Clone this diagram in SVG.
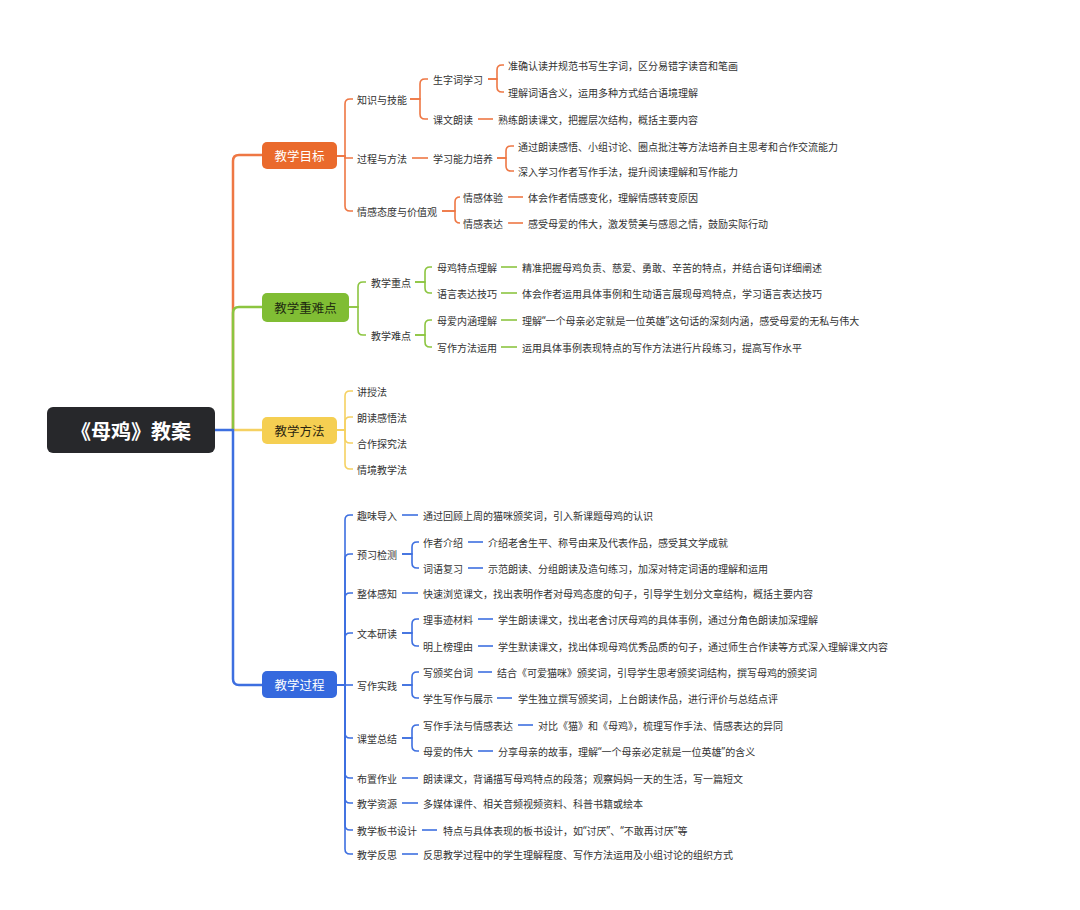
<svg xmlns="http://www.w3.org/2000/svg" width="1080" height="910" viewBox="0 0 1080 910">
<style>
.t{font-family:"Noto Sans CJK SC","Noto Sans",sans-serif;font-size:10px;fill:#333;dominant-baseline:central}
.q{font-family:"Noto Sans","Liberation Sans",sans-serif}
.m{font-family:"Noto Sans CJK SC","Noto Sans",sans-serif;font-size:12.5px;dominant-baseline:central;text-anchor:middle}
.r{font-family:"Noto Sans CJK SC","Noto Sans",sans-serif;font-size:20px;font-weight:bold;fill:#fff;dominant-baseline:central;text-anchor:middle}
.o{stroke:#ee7744;fill:none;stroke-width:1.6}
.g{stroke:#8cc540;fill:none;stroke-width:1.6}
.y{stroke:#f5d162;fill:none;stroke-width:1.6}
.b{stroke:#3d6fe0;fill:none;stroke-width:1.6}
.w{stroke-width:2.5}
</style>
<rect width="1080" height="910" fill="#fff"/>
<g id="connectors">
<path class="o w" d="M233,430 V161 Q233,155 239,155 H262"/>
<path class="g w" d="M233,430 V313 Q233,307 239,307 H262"/>
<path class="y w" d="M233,430 H262"/>
<path class="b w" d="M215,430 H233 V679 Q233,685 239,685 H262"/>
<path class="o" d="M337,156 H345 V104 Q345,99 350,99 H353"/>
<path class="o" d="M337,156 H345 V158 H353"/>
<path class="o" d="M337,156 H345 V206 Q345,211 350,211 H353"/>
<path class="o" d="M410,99 H420 V84 Q420,79 425,79 H428"/>
<path class="o" d="M410,99 H420 V114 Q420,119 425,119 H428"/>
<path class="o" d="M412,158 H428"/>
<path class="o" d="M442,211 H455 V202 Q455,197 460,197 H460"/>
<path class="o" d="M442,211 H455 V218 Q455,223 460,223 H460"/>
<path class="o" d="M488,79 H497 V70 Q497,65 502,65 H504"/>
<path class="o" d="M488,79 H497 V87 Q497,92 502,92 H504"/>
<path class="o" d="M478,119 H493"/>
<path class="o" d="M497,158 H506 V151 Q506,146 511,146 H514"/>
<path class="o" d="M497,158 H506 V166 Q506,171 511,171 H514"/>
<path class="o" d="M508,197 H523"/>
<path class="o" d="M508,223 H523"/>
<path class="g" d="M349,307 H358 V287 Q358,282 363,282 H366"/>
<path class="g" d="M349,307 H358 V330 Q358,335 363,335 H366"/>
<path class="g" d="M415,282 H425 V272 Q425,267 430,267 H432"/>
<path class="g" d="M415,282 H425 V288 Q425,293 430,293 H432"/>
<path class="g" d="M415,335 H425 V325 Q425,320 430,320 H432"/>
<path class="g" d="M415,335 H425 V342 Q425,347 430,347 H432"/>
<path class="g" d="M501,267 H517"/>
<path class="g" d="M501,293 H517"/>
<path class="g" d="M501,320 H517"/>
<path class="g" d="M501,347 H517"/>
<path class="y" d="M337,430 H345 V396 Q345,391 350,391 H353"/>
<path class="y" d="M337,430 H345 V422 Q345,417 350,417 H353"/>
<path class="y" d="M337,430 H345 V438 Q345,443 350,443 H353"/>
<path class="y" d="M337,430 H345 V464 Q345,469 350,469 H353"/>
<path class="b" d="M337,685 H345 V520 Q345,515 350,515 H353"/>
<path class="b" d="M337,685 H345 V559 Q345,554 350,554 H353"/>
<path class="b" d="M337,685 H345 V598 Q345,593 350,593 H353"/>
<path class="b" d="M337,685 H345 V638 Q345,633 350,633 H353"/>
<path class="b" d="M337,685 H353"/>
<path class="b" d="M337,685 H345 V733 Q345,738 350,738 H353"/>
<path class="b" d="M337,685 H345 V773 Q345,778 350,778 H353"/>
<path class="b" d="M337,685 H345 V798 Q345,803 350,803 H353"/>
<path class="b" d="M337,685 H345 V825 Q345,830 350,830 H353"/>
<path class="b" d="M337,685 H345 V849 Q345,854 350,854 H353"/>
<path class="b" d="M402,515 H418"/>
<path class="b" d="M402,554 H412 V547 Q412,542 417,542 H419"/>
<path class="b" d="M402,554 H412 V563 Q412,568 417,568 H419"/>
<path class="b" d="M468,542 H483"/>
<path class="b" d="M468,568 H483"/>
<path class="b" d="M402,593 H418"/>
<path class="b" d="M402,633 H412 V624 Q412,619 417,619 H419"/>
<path class="b" d="M402,633 H412 V641 Q412,646 417,646 H419"/>
<path class="b" d="M478,619 H493"/>
<path class="b" d="M478,646 H493"/>
<path class="b" d="M402,685 H412 V677 Q412,672 417,672 H419"/>
<path class="b" d="M402,685 H412 V693 Q412,698 417,698 H419"/>
<path class="b" d="M478,672 H492"/>
<path class="b" d="M497,698 H512"/>
<path class="b" d="M402,738 H412 V730 Q412,725 417,725 H419"/>
<path class="b" d="M402,738 H412 V746 Q412,751 417,751 H419"/>
<path class="b" d="M518,725 H533"/>
<path class="b" d="M478,751 H493"/>
<path class="b" d="M402,778 H418"/>
<path class="b" d="M402,803 H418"/>
<path class="b" d="M422,830 H437"/>
<path class="b" d="M402,854 H418"/>
</g>
<g id="root"><rect x="47" y="407" width="168" height="46" rx="6" fill="#27282b"/><text class="r" x="131" y="430">《母鸡》教案</text></g>
<g id="n-mubiao"><rect x="262" y="142" width="75" height="27" rx="5" fill="#ea6a2c"/><text class="m" x="299.5" y="155.5" fill="#fff">教学目标</text></g>
<g id="n-zhongnan"><rect x="262" y="293" width="87" height="29" rx="5" fill="#80bd34"/><text class="m" x="305.5" y="307.5" fill="#1e2a10">教学重难点</text></g>
<g id="n-fangfa"><rect x="262" y="417" width="75" height="27" rx="5" fill="#f5cf52"/><text class="m" x="299.5" y="430.5" fill="#2a2410">教学方法</text></g>
<g id="n-guocheng"><rect x="262" y="671" width="75" height="27" rx="5" fill="#3569de"/><text class="m" x="299.5" y="684.5" fill="#fff">教学过程</text></g>
<g id="orange-nodes">
<text class="t" x="357" y="99">知识与技能</text>
<text class="t" x="357" y="158">过程与方法</text>
<text class="t" x="357" y="211">情感态度与价值观</text>
<text class="t" x="433" y="79">生字词学习</text>
<text class="t" x="433" y="119">课文朗读</text>
<text class="t" x="433" y="158">学习能力培养</text>
<text class="t" x="463" y="197">情感体验</text>
<text class="t" x="463" y="223">情感表达</text>
<text class="t" x="508" y="65">准确认读并规范书写生字词，区分易错字读音和笔画</text>
<text class="t" x="508" y="92">理解词语含义，运用多种方式结合语境理解</text>
<text class="t" x="498" y="119">熟练朗读课文，把握层次结构，概括主要内容</text>
<text class="t" x="518" y="146">通过朗读感悟、小组讨论、圈点批注等方法培养自主思考和合作交流能力</text>
<text class="t" x="518" y="171">深入学习作者写作手法，提升阅读理解和写作能力</text>
<text class="t" x="528" y="197">体会作者情感变化，理解情感转变原因</text>
<text class="t" x="528" y="223">感受母爱的伟大，激发赞美与感恩之情，鼓励实际行动</text>
</g>
<g id="green-nodes">
<text class="t" x="371" y="282">教学重点</text>
<text class="t" x="371" y="335">教学难点</text>
<text class="t" x="437" y="267">母鸡特点理解</text>
<text class="t" x="437" y="293">语言表达技巧</text>
<text class="t" x="437" y="320">母爱内涵理解</text>
<text class="t" x="437" y="347">写作方法运用</text>
<text class="t" x="522" y="267">精准把握母鸡负责、慈爱、勇敢、辛苦的特点，并结合语句详细阐述</text>
<text class="t" x="522" y="293">体会作者运用具体事例和生动语言展现母鸡特点，学习语言表达技巧</text>
<text class="t" x="522" y="320">理解<tspan class="q">“</tspan>一个母亲必定就是一位英雄<tspan class="q">”</tspan>这句话的深刻内涵，感受母爱的无私与伟大</text>
<text class="t" x="522" y="347">运用具体事例表现特点的写作方法进行片段练习，提高写作水平</text>
</g>
<g id="yellow-nodes">
<text class="t" x="357" y="391">讲授法</text>
<text class="t" x="357" y="417">朗读感悟法</text>
<text class="t" x="357" y="443">合作探究法</text>
<text class="t" x="357" y="469">情境教学法</text>
</g>
<g id="blue-nodes">
<text class="t" x="357" y="515">趣味导入</text>
<text class="t" x="357" y="554">预习检测</text>
<text class="t" x="357" y="593">整体感知</text>
<text class="t" x="357" y="633">文本研读</text>
<text class="t" x="357" y="685">写作实践</text>
<text class="t" x="357" y="738">课堂总结</text>
<text class="t" x="357" y="778">布置作业</text>
<text class="t" x="357" y="803">教学资源</text>
<text class="t" x="357" y="830">教学板书设计</text>
<text class="t" x="357" y="854">教学反思</text>
<text class="t" x="423" y="515">通过回顾上周的猫咪颁奖词，引入新课题母鸡的认识</text>
<text class="t" x="423" y="542">作者介绍</text>
<text class="t" x="423" y="568">词语复习</text>
<text class="t" x="488" y="542">介绍老舍生平、称号由来及代表作品，感受其文学成就</text>
<text class="t" x="488" y="568">示范朗读、分组朗读及造句练习，加深对特定词语的理解和运用</text>
<text class="t" x="423" y="593">快速浏览课文，找出表明作者对母鸡态度的句子，引导学生划分文章结构，概括主要内容</text>
<text class="t" x="423" y="619">理事迹材料</text>
<text class="t" x="423" y="646">明上榜理由</text>
<text class="t" x="498" y="619">学生朗读课文，找出老舍讨厌母鸡的具体事例，通过分角色朗读加深理解</text>
<text class="t" x="498" y="646">学生默读课文，找出体现母鸡优秀品质的句子，通过师生合作读等方式深入理解课文内容</text>
<text class="t" x="423" y="672">写颁奖台词</text>
<text class="t" x="423" y="698">学生写作与展示</text>
<text class="t" x="497" y="672">结合《可爱猫咪》颁奖词，引导学生思考颁奖词结构，撰写母鸡的颁奖词</text>
<text class="t" x="518" y="698">学生独立撰写颁奖词，上台朗读作品，进行评价与总结点评</text>
<text class="t" x="423" y="725">写作手法与情感表达</text>
<text class="t" x="423" y="751">母爱的伟大</text>
<text class="t" x="538" y="725">对比《猫》和《母鸡》，梳理写作手法、情感表达的异同</text>
<text class="t" x="498" y="751">分享母亲的故事，理解<tspan class="q">“</tspan>一个母亲必定就是一位英雄<tspan class="q">”</tspan>的含义</text>
<text class="t" x="423" y="778">朗读课文，背诵描写母鸡特点的段落；观察妈妈一天的生活，写一篇短文</text>
<text class="t" x="423" y="803">多媒体课件、相关音频视频资料、科普书籍或绘本</text>
<text class="t" x="443" y="830">特点与具体表现的板书设计，如<tspan class="q">“</tspan>讨厌<tspan class="q">”</tspan>、<tspan class="q">“</tspan>不敢再讨厌<tspan class="q">”</tspan>等</text>
<text class="t" x="423" y="854">反思教学过程中的学生理解程度、写作方法运用及小组讨论的组织方式</text>
</g>
</svg>
